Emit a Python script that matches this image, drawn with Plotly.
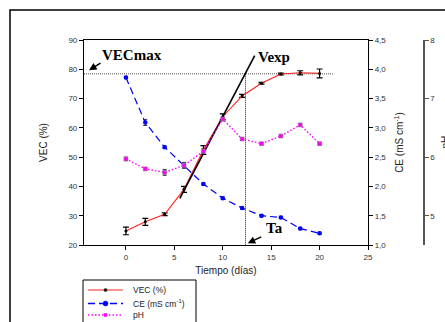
import plotly.graph_objects as go

# ---------------- data ----------------
dias = [0, 2, 4, 6, 8, 10, 12, 14, 16, 18, 20]
vec = [24.8, 27.9, 30.5, 39.0, 52.4, 63.8, 70.9, 75.2, 78.4, 78.8, 78.6]
vec_err = [1.3, 1.2, 0.5, 1.0, 1.5, 1.0, 0.5, 0.3, 0.3, 0.7, 1.5]
ce = [3.86, 3.09, 2.67, 2.35, 2.04, 1.80, 1.63, 1.50, 1.47, 1.28, 1.20]
ce_err = [0.02, 0.05, 0.02, 0.03, 0.02, 0.02, 0.02, 0.02, 0.02, 0.02, 0.02]
ph = [5.97, 5.80, 5.74, 5.86, 6.10, 6.65, 6.31, 6.23, 6.36, 6.55, 6.23]
ph_err = [0.03, 0.02, 0.05, 0.05, 0.04, 0.03, 0.02, 0.02, 0.02, 0.02, 0.02]

vexp_x = [5.57, 13.3]
vexp_y = [35.9, 84.7]
VECMAX = 78.5
TA = 12.35
vecmax_line_x = [-4.33, 21.5]

x_ticks = [0, 5, 10, 15, 20, 25]
vec_ticks = [20, 30, 40, 50, 60, 70, 80, 90]
ce_ticks = [1.0, 1.5, 2.0, 2.5, 3.0, 3.5, 4.0, 4.5]
ph_ticks = [5, 6, 7, 8]

# ---------------- layout geometry ----------------
W, H = 445, 322
L, R, T, B = 84, 21, 40, 77
PW = W - L - R
PHt = H - T - B


def px(x, y):
    return (x - L) / PW, (H - B - y) / PHt


FONT = "Liberation Sans, Arial, sans-serif"
SERIF = "Liberation Serif, Times New Roman, serif"

fig = go.Figure()

fig.add_trace(go.Scatter(
    x=vecmax_line_x, y=[VECMAX, VECMAX], mode="lines",
    line=dict(color="#8a8a8a", width=1.6, dash="1px,1px"), showlegend=False,
    hoverinfo="skip"))
fig.add_trace(go.Scatter(
    x=[TA, TA], y=[VECMAX, 20], mode="lines",
    line=dict(color="#222222", width=1, dash="1px,1px"), showlegend=False,
    hoverinfo="skip"))

fig.add_trace(go.Scatter(
    x=dias, y=ph, yaxis="y3", mode="lines+markers", name="pH",
    line=dict(color="#ff00ff", width=1.4, dash="1.5px,2px"),
    marker=dict(symbol="square", size=4, color="#ff00ff",
                line=dict(color="#888888", width=0.6)),
    error_y=dict(type="data", array=ph_err, color="#333333", thickness=1, width=2),
    showlegend=False))

fig.add_trace(go.Scatter(
    x=dias, y=ce, yaxis="y2", mode="lines+markers", name="CE (mS cm<sup>-1</sup>)",
    line=dict(color="#0000ff", width=1.2, dash="7px,4px"),
    marker=dict(symbol="circle", size=4.5, color="#0000ff"),
    error_y=dict(type="data", array=ce_err, color="#333333", thickness=1, width=2),
    showlegend=False))

fig.add_trace(go.Scatter(
    x=dias, y=vec, mode="lines+markers", name="VEC (%)",
    line=dict(color="#ff2020", width=1.1),
    marker=dict(symbol="circle", size=3, color="#000000"),
    error_y=dict(type="data", array=vec_err, color="#000000", thickness=1.2, width=3),
    showlegend=False))

fig.add_trace(go.Scatter(
    x=vexp_x, y=vexp_y, mode="lines",
    line=dict(color="#000000", width=1.6), showlegend=False, hoverinfo="skip"))

# ---------------- annotations ----------------
ann = []
ann.append(dict(x=0.62, y=84.8, xref="x", yref="y", text="<b>VECmax</b>",
                showarrow=False, font=dict(family=SERIF, size=15, color="#000")))
ann.append(dict(x=15.3, y=84.3, xref="x", yref="y", text="<b>Vexp</b>",
                showarrow=False, font=dict(family=SERIF, size=15, color="#000")))
ann.append(dict(x=15.3, y=25.8, xref="x", yref="y", text="<b>Ta</b>",
                showarrow=False, font=dict(family=SERIF, size=15, color="#000")))
ann.append(dict(x=-3.81, y=79.7, xref="x", yref="y", text="", showarrow=True,
                ax=13, ay=-8, arrowhead=2, arrowsize=1, arrowwidth=1.5,
                arrowcolor="#000", standoff=0))
ann.append(dict(x=12.58, y=20.6, xref="x", yref="y", text="", showarrow=True,
                ax=15, ay=-7, arrowhead=2, arrowsize=1, arrowwidth=1.5,
                arrowcolor="#000", standoff=0))

# pH axis title (mostly outside the view, as in the reference)
xp, yp = px(452, 142)
ann.append(dict(x=xp, y=yp, xref="paper", yref="paper", text="pH", textangle=-90,
                showarrow=False, font=dict(family=FONT, size=10, color="#222")))

# ---------------- frame and manual legend ----------------
shapes = []
x0, y0 = px(10, 10)
x1, y1 = px(470, 340)
shapes.append(dict(type="rect", xref="paper", yref="paper", x0=x0, y0=y1, x1=x1, y1=y0,
                   line=dict(color="#000", width=1.5)))
lx0, ly0 = px(83, 280)
lx1, ly1 = px(196, 340)
shapes.append(dict(type="rect", xref="paper", yref="paper", x0=lx0, y0=ly1, x1=lx1, y1=ly0,
                   line=dict(color="#000", width=1), fillcolor="rgba(0,0,0,0)"))

legend_rows = [
    ("VEC (%)", 290, "#ff2020", "solid", 1.1, "#000000", "circle", 3),
    ("CE (mS cm<sup>-1</sup>)", 303.5, "#0000ff", "7px,4px", 1.3, "#0000ff", "circle", 5),
    ("pH", 315, "#ff00ff", "1.5px,2px", 1.4, "#ff00ff", "rect", 3),
]
for text, yy, col, dash, lw, mcol, msym, msz in legend_rows:
    a0, b0 = px(88, yy)
    a1, _ = px(123, yy)
    shapes.append(dict(type="line", xref="paper", yref="paper", x0=a0, y0=b0, x1=a1, y1=b0,
                       line=dict(color=col, width=lw, dash=dash)))
    cx0, cy0 = px(105.5 - msz / 2, yy + msz / 2)
    cx1, cy1 = px(105.5 + msz / 2, yy - msz / 2)
    shapes.append(dict(type=msym, xref="paper", yref="paper", x0=cx0, y0=cy0, x1=cx1, y1=cy1,
                       line=dict(color=mcol, width=0.5), fillcolor=mcol))
    tx, ty = px(131, yy)
    ann.append(dict(x=tx, y=ty, xref="paper", yref="paper", text=text, showarrow=False,
                    xanchor="left", yanchor="middle",
                    font=dict(family=FONT, size=8.5, color="#222")))

tickfont = dict(family=FONT, size=8, color="#333")
titlefont = dict(family=FONT, size=10, color="#222")

fig.update_layout(
    width=W, height=H,
    margin=dict(l=L, r=R, t=T, b=B, autoexpand=False),
    paper_bgcolor="white", plot_bgcolor="white",
    separators=",.",
    showlegend=False,
    font=dict(family=FONT),
    xaxis=dict(domain=[0, 284 / 340], range=[-4.33, 25], tickvals=x_ticks,
               ticks="outside", ticklen=4, tickcolor="#000", showline=True,
               linecolor="#000", linewidth=1.2, mirror=True, showgrid=False,
               zeroline=False, tickfont=tickfont,
               title=dict(text="Tiempo (días)", font=titlefont, standoff=6),
               automargin=False),
    yaxis=dict(range=[20, 90], tickvals=vec_ticks, ticks="outside", ticklen=4,
               tickcolor="#000", showline=True, linecolor="#000", linewidth=1.2,
               showgrid=False, zeroline=False, tickfont=tickfont,
               title=dict(text="VEC (%)", font=titlefont, standoff=18),
               automargin=False),
    yaxis2=dict(range=[1.0, 4.5], tickvals=ce_ticks, tickformat=".1f",
                overlaying="y", side="right", anchor="x", ticks="outside", ticklen=4,
                tickcolor="#000", showline=True, linecolor="#000", linewidth=1.2,
                showgrid=False, zeroline=False, tickfont=tickfont,
                title=dict(text="CE (mS cm<sup>-1</sup>)", font=titlefont, standoff=10),
                automargin=False),
    yaxis3=dict(range=[4.5, 8], tickvals=ph_ticks, overlaying="y", side="right",
                anchor="free", position=1.0, ticks="outside", ticklen=4,
                tickcolor="#555", showline=True, linecolor="#555", linewidth=1.5,
                showgrid=False, zeroline=False, tickfont=tickfont,
                automargin=False),
    annotations=ann,
    shapes=shapes,
)

fig.write_html("out.html")
